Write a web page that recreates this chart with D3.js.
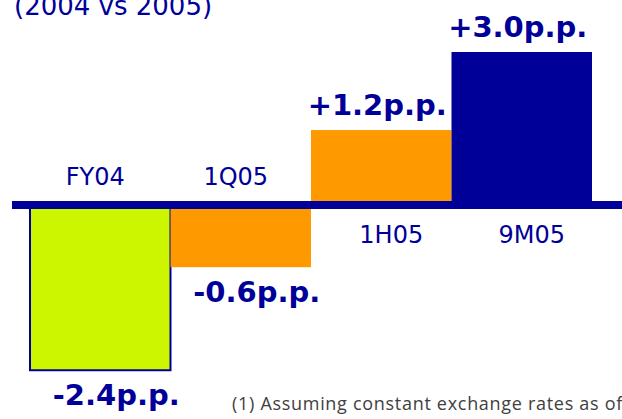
<!DOCTYPE html>
<html>
<head>
<meta charset="utf-8">
<script src="https://cdn.jsdelivr.net/npm/d3@7"></script>
<style>
  html, body { margin: 0; padding: 0; background: #fff; overflow: hidden; }
</style>
</head>
<body>
<div id="chart"></div>
<script>
// Dimensions of the slide region.
var width = 622;
var height = 419;

// Periods, the change shown on each label, and the bar length as drawn (p.p.).
var periods = ["FY04", "1Q05", "1H05", "9M05"];
var changes = ["-2.4p.p.", "-0.6p.p.", "+1.2p.p.", "+3.0p.p."];
var barValues = [-3.24, -1.22, 1.47, 3.0];
var barColors = ["#ccf500", "#ff9900", "#ff9900", "#000099"];

var title = "(2004 vs 2005)";
var footnote = "(1) Assuming constant exchange rates as of";

var navy = "#000099";

var svg = d3.select("#chart").append("svg")
    .attr("width", width)
    .attr("height", height);

var x = d3.scaleBand()
    .domain(periods)
    .range([30, 592])
    .padding(0);

// 3.0 p.p. spans 153px above the zero line.
var y = d3.scaleLinear()
    .domain([0, 3])
    .range([205, 52]);

// Title, cut off at the top of the picture
svg.append("text")
    .attr("x", 14)
    .attr("y", 15)
    .attr("font-family", "DejaVu Sans")
    .attr("font-size", 26)
    .attr("fill", navy)
    .text(title);

// Bars
svg.selectAll("rect.bar")
    .data(periods)
    .enter().append("rect")
    .attr("class", "bar")
    .attr("x", function(d) { return x(d); })
    .attr("width", x.bandwidth())
    .attr("y", function(d, i) { return Math.min(y(0), y(barValues[i])); })
    .attr("height", function(d, i) { return Math.abs(y(barValues[i]) - y(0)); })
    .attr("fill", function(d, i) { return barColors[i]; })
    .attr("stroke", function(d, i) { return i === 0 ? navy : "none"; })
    .attr("stroke-width", 2);

// Zero line
svg.append("rect")
    .attr("x", 12)
    .attr("y", y(0) - 4)
    .attr("width", width - 12)
    .attr("height", 8)
    .attr("fill", navy);

// Period labels sit on the side of the line away from the bar
svg.selectAll("text.period")
    .data(periods)
    .enter().append("text")
    .attr("class", "period")
    .attr("x", function(d, i) { return x(d) + x.bandwidth() / 2 + (barValues[i] < 0 ? -5 : 10); })
    .attr("y", function(d, i) { return barValues[i] < 0 ? y(0) - 20 : y(0) + 38; })
    .attr("text-anchor", "middle")
    .attr("font-family", "DejaVu Sans")
    .attr("font-size", 24)
    .attr("fill", navy)
    .text(function(d) { return d; });

// Change labels at the end of each bar
svg.selectAll("text.change")
    .data(periods)
    .enter().append("text")
    .attr("class", "change")
    .attr("x", function(d, i) { return x(d) + x.bandwidth() / 2 + (barValues[i] < 0 ? 16 : -4); })
    .attr("y", function(d, i) {
      return barValues[i] < 0 ? y(barValues[i]) + 35 : y(barValues[i]) - 15;
    })
    .attr("text-anchor", "middle")
    .attr("font-family", "DejaVu Sans")
    .attr("font-weight", "bold")
    .attr("font-size", 29)
    .attr("fill", navy)
    .text(function(d, i) { return changes[i]; });

// Footnote, runs off the right edge
svg.append("text")
    .attr("x", 232)
    .attr("y", 410)
    .attr("font-family", "Open Sans")
    .attr("font-size", 18)
    .attr("letter-spacing", 0.7)
    .attr("fill", "#404040")
    .text(footnote);
</script>
</body>
</html>
